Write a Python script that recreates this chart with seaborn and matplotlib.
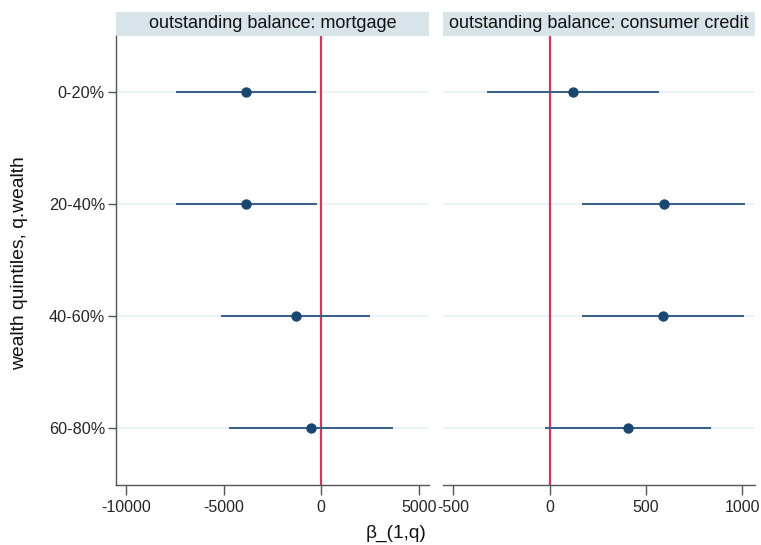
import matplotlib
matplotlib.use("Agg")
import matplotlib.pyplot as plt
from matplotlib.patches import Rectangle
import pandas as pd
import seaborn as sns

# Coefficient estimates and 95% confidence bounds per wealth quintile
quintiles = ["0-20%", "20-40%", "40-60%", "60-80%"]

mortgage_coef = [-3850, -3870, -1320, -550]
mortgage_lo = [-7420, -7440, -5140, -4750]
mortgage_hi = [-260, -240, 2500, 3680]

consumer_coef = [121, 592, 590, 408]
consumer_lo = [-325, 171, 171, -22]
consumer_hi = [571, 1016, 1010, 837]

panel_titles = ["outstanding balance: mortgage", "outstanding balance: consumer credit"]
mortgage_ticks = [-10000, -5000, 0, 5000]
consumer_ticks = [-500, 0, 500, 1000]

sns.set_theme(style="white")
plt.rcParams["font.family"] = ["Liberation Sans", "DejaVu Sans"]

NAVY = "#1a476f"
CI_COL = "#3a5f88"
RED = "#d0385c"
GRID = "#e9f1f2"
STRIP = "#d9e4ea"
SPINE = "#555555"

W, H = 761, 545
fig = plt.figure(figsize=(W / 100, H / 100), dpi=100)


def px_axes(x0, x1, y0, y1):
    return fig.add_axes([x0 / W, 1 - y1 / H, (x1 - x0) / W, (y1 - y0) / H])


ax_l = px_axes(116, 429, 36, 485)
ax_r = px_axes(443, 755, 36, 485)

panels = [
    (ax_l, mortgage_coef, mortgage_lo, mortgage_hi, (-10520, 5520), mortgage_ticks, panel_titles[0]),
    (ax_r, consumer_coef, consumer_lo, consumer_hi, (-553, 1067), consumer_ticks, panel_titles[1]),
]

for i, (ax, coef, lo, hi, xlim, ticks, title) in enumerate(panels):
    df = pd.DataFrame({"q": quintiles, "coef": coef, "lo": lo, "hi": hi})
    df["pos"] = range(len(quintiles))

    for p in df["pos"]:
        ax.axhline(p, color=GRID, lw=1.3, zorder=0)
    ax.axvline(0, color=RED, lw=1.6, zorder=1)
    ax.hlines(df["pos"], df["lo"], df["hi"], color=CI_COL, lw=1.5, zorder=2)
    sns.scatterplot(data=df, x="coef", y="pos", ax=ax, color=NAVY, s=56,
                    edgecolor=NAVY, linewidth=0, zorder=3, legend=False)

    ax.set_xlim(*xlim)
    ax.set_ylim(3.51, -0.5)
    ax.set_xticks(ticks)
    ax.set_xticklabels([str(t) for t in ticks])
    ax.set_xlabel("")
    ax.set_ylabel("")
    ax.tick_params(axis="x", direction="out", length=7, width=1, color=SPINE,
                   labelsize=11.5, pad=4, bottom=True)
    for s in ["top", "right"]:
        ax.spines[s].set_visible(False)
    ax.spines["bottom"].set_color(SPINE)
    ax.spines["bottom"].set_linewidth(1.0)
    if i == 0:
        ax.set_yticks(range(len(quintiles)))
        ax.set_yticklabels(quintiles)
        ax.tick_params(axis="y", direction="out", length=6, width=1, color=SPINE,
                       labelsize=11.7, pad=2, left=True)
        ax.spines["left"].set_color(SPINE)
        ax.spines["left"].set_linewidth(1.0)
    else:
        ax.set_yticks([])
        ax.spines["left"].set_visible(False)

    # facet strip
    strip_h = 24 / 449
    ax.add_patch(Rectangle((0, 1), 1, strip_h, transform=ax.transAxes,
                           facecolor=STRIP, edgecolor="none", clip_on=False))
    ax.text(0.5, 1 + strip_h / 2, title, transform=ax.transAxes, ha="center",
            va="center", fontsize=13, color="#111111")

fig.text(20 / W, 1 - 263 / H, "wealth quintiles, q.wealth", rotation=90,
         ha="center", va="center", fontsize=13.9, color="#111111")
fig.text(396 / W, 1 - 533 / H, "β_(1,q)", ha="center", va="center",
         fontsize=13.7, color="#111111")

fig.savefig("out.png", dpi=100)
